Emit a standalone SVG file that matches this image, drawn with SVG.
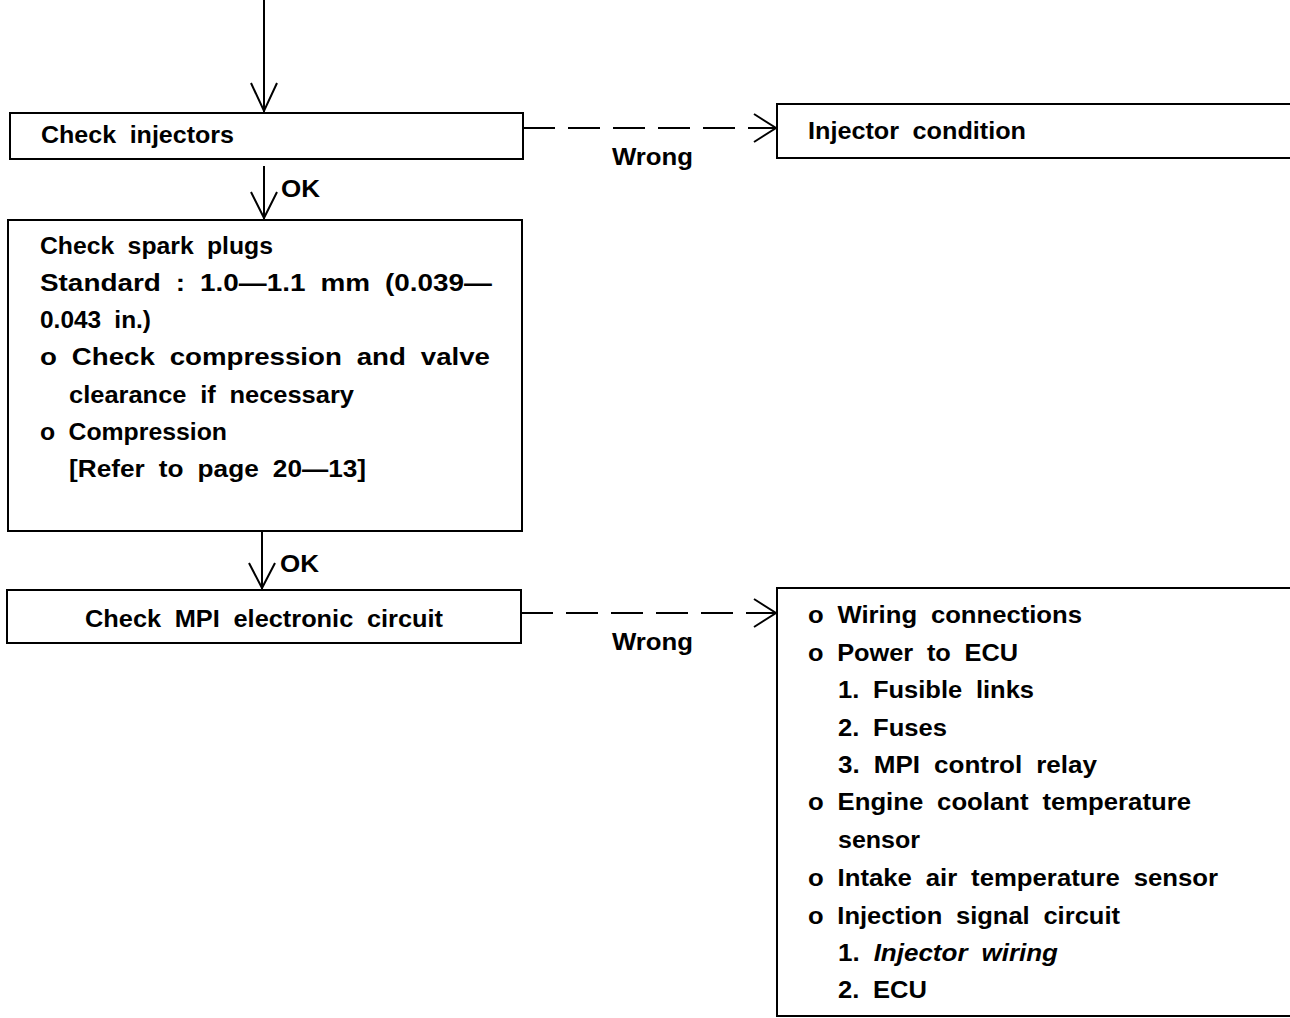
<svg xmlns="http://www.w3.org/2000/svg" width="1290" height="1018" viewBox="0 0 1290 1018">
<style>
.box{fill:#fff;stroke:#000;stroke-width:2}
.t{font-family:"Liberation Sans",Arial,sans-serif;font-size:23px;font-weight:bold;fill:#000;word-spacing:6px}
.ln{stroke:#000;stroke-width:2;fill:none}
.dash{stroke:#000;stroke-width:2;fill:none;stroke-dasharray:32 13}
</style>
<rect width="1290" height="1018" fill="#fff"/>
<g id="connectors">
<line class="ln" x1="264" y1="0" x2="264" y2="112"/>
<polyline class="ln" points="251,83 264,111 277,83"/>
<line class="ln" x1="264" y1="166" x2="264" y2="219"/>
<polyline class="ln" points="251,192 264,218 277,192"/>
<text class="t" x="281" y="197" textLength="39" lengthAdjust="spacingAndGlyphs">OK</text>
<line class="ln" x1="262" y1="532" x2="262" y2="589"/>
<polyline class="ln" points="249,563 262,588 275,563"/>
<text class="t" x="280" y="572" textLength="39" lengthAdjust="spacingAndGlyphs">OK</text>
<path class="dash" d="M523,128 H776"/>
<polyline class="ln" points="754,114 776,128 754,142"/>
<text class="t" x="612" y="165" textLength="81" lengthAdjust="spacingAndGlyphs">Wrong</text>
<path class="dash" d="M521,613 H776"/>
<polyline class="ln" points="754,599 776,613 754,627"/>
<text class="t" x="612" y="650" textLength="81" lengthAdjust="spacingAndGlyphs">Wrong</text>
</g>
<g id="node-check-injectors">
<rect class="box" x="10" y="113" width="513" height="46"/>
<text class="t" x="41" y="143" textLength="193" lengthAdjust="spacingAndGlyphs">Check injectors</text>
</g>
<g id="node-injector-condition">
<rect class="box" x="777" y="104" width="530" height="54"/>
<text class="t" x="808" y="139" textLength="218" lengthAdjust="spacingAndGlyphs">Injector condition</text>
</g>
<g id="node-check-spark-plugs">
<rect class="box" x="8" y="220" width="514" height="311"/>
<text class="t" x="40" y="254" textLength="233" lengthAdjust="spacingAndGlyphs">Check spark plugs</text>
<text class="t" x="40" y="291" textLength="452" lengthAdjust="spacingAndGlyphs">Standard : 1.0—1.1 mm (0.039—</text>
<text class="t" x="40" y="328" textLength="111" lengthAdjust="spacingAndGlyphs">0.043 in.)</text>
<text class="t" x="40" y="365" textLength="450" lengthAdjust="spacingAndGlyphs">o Check compression and valve</text>
<text class="t" x="69" y="403" textLength="285" lengthAdjust="spacingAndGlyphs">clearance if necessary</text>
<text class="t" x="40" y="440" textLength="187" lengthAdjust="spacingAndGlyphs">o Compression</text>
<text class="t" x="69" y="477" textLength="297" lengthAdjust="spacingAndGlyphs">[Refer to page 20—13]</text>
</g>
<g id="node-check-mpi">
<rect class="box" x="7" y="590" width="514" height="53"/>
<text class="t" x="85" y="627" textLength="358" lengthAdjust="spacingAndGlyphs">Check MPI electronic circuit</text>
</g>
<g id="node-mpi-causes">
<rect class="box" x="777" y="588" width="530" height="428"/>
<text class="t" x="808" y="623" textLength="274" lengthAdjust="spacingAndGlyphs">o Wiring connections</text>
<text class="t" x="808" y="661" textLength="210" lengthAdjust="spacingAndGlyphs">o Power to ECU</text>
<text class="t" x="838" y="698" textLength="196" lengthAdjust="spacingAndGlyphs">1. Fusible links</text>
<text class="t" x="838" y="736" textLength="109" lengthAdjust="spacingAndGlyphs">2. Fuses</text>
<text class="t" x="838" y="773" textLength="259" lengthAdjust="spacingAndGlyphs">3. MPI control relay</text>
<text class="t" x="808" y="810" textLength="383" lengthAdjust="spacingAndGlyphs">o Engine coolant temperature</text>
<text class="t" x="838" y="848" textLength="82" lengthAdjust="spacingAndGlyphs">sensor</text>
<text class="t" x="808" y="886" textLength="410" lengthAdjust="spacingAndGlyphs">o Intake air temperature sensor</text>
<text class="t" x="808" y="924" textLength="312" lengthAdjust="spacingAndGlyphs">o Injection signal circuit</text>
<text class="t" x="838" y="961" textLength="220" lengthAdjust="spacingAndGlyphs">1. <tspan font-style="italic">Injector wiring</tspan></text>
<text class="t" x="838" y="998" textLength="89" lengthAdjust="spacingAndGlyphs">2. ECU</text>
</g>
</svg>
